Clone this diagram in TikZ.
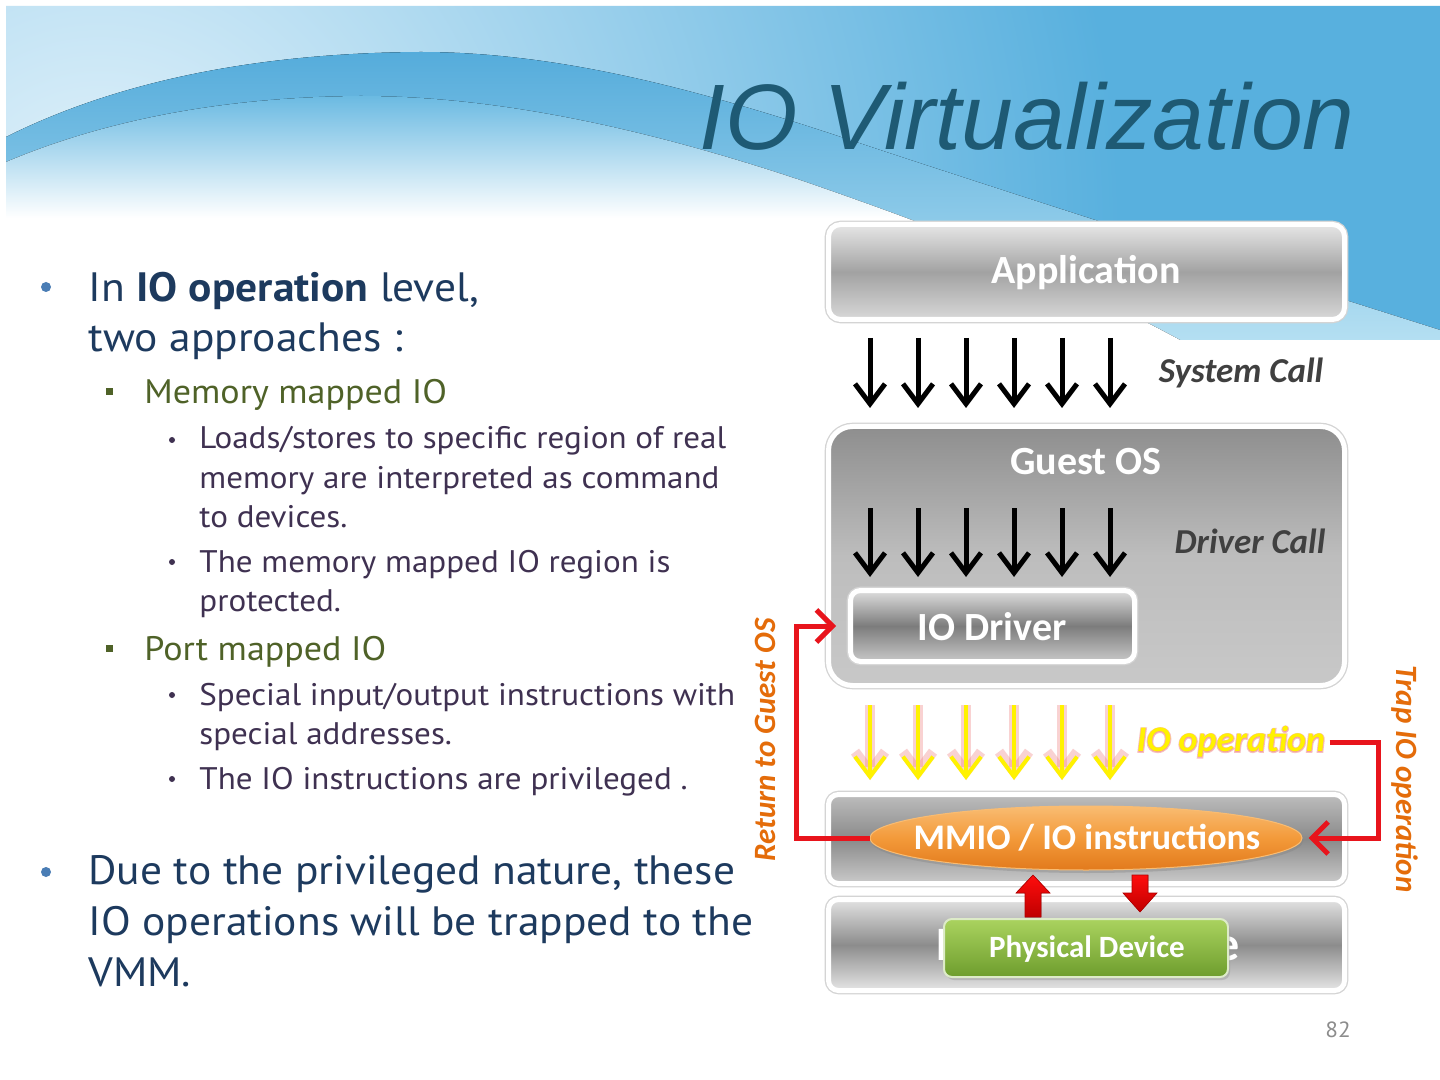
\documentclass[tikz,border=0pt]{standalone}
\usepackage{fontspec}
\usetikzlibrary{arrows.meta,shapes.geometric,shadows}
\setmainfont{PT Sans}
\newfontfamily\bodyfont[FakeStretch=1.06]{PT Sans}
\newfontfamily\calfont{Carlito}
\newfontfamily\calglow[FakeBold=6]{Carlito}
\newfontfamily\titlefont{Liberation Sans}
\definecolor{hdrBlue}{HTML}{58B0DE}
\definecolor{hdrLight}{HTML}{E4F3FB}
\definecolor{bandT}{HTML}{55ACDB}
\definecolor{bandB}{HTML}{B4DFF2}
\definecolor{waveT}{HTML}{6BBAE2}
\definecolor{titlecol}{HTML}{1E5A74}
\definecolor{navy}{HTML}{1D3A5E}
\definecolor{bullblue}{HTML}{4A7DB5}
\definecolor{olive}{HTML}{4F6228}
\definecolor{purp}{HTML}{3F3151}
\definecolor{lblgray}{HTML}{404040}
\definecolor{orangelbl}{HTML}{E46C0A}
\definecolor{redc}{HTML}{E8141C}
\definecolor{ioyellow}{HTML}{FFF200}
\definecolor{glowpink}{HTML}{F08080}
\definecolor{edgegray}{HTML}{D4D4D4}
\definecolor{appT}{HTML}{E6E6E6}\definecolor{appM}{HTML}{A2A2A2}\definecolor{appB}{HTML}{D8D8D8}
\definecolor{gosT}{HTML}{8E8E8E}\definecolor{gosM}{HTML}{BDBDBD}\definecolor{gosB}{HTML}{C8C8C8}
\definecolor{iodT}{HTML}{DEDEDE}\definecolor{iodM}{HTML}{7C7C7C}\definecolor{iodB}{HTML}{C8C8C8}
\definecolor{vmmT}{HTML}{BDBDBD}\definecolor{vmmM}{HTML}{8A8A8A}\definecolor{vmmB}{HTML}{CACACA}
\definecolor{hwT}{HTML}{E2E2E2}\definecolor{hwM}{HTML}{8C8C8C}\definecolor{hwB}{HTML}{E6E6E6}
\definecolor{orT}{HTML}{F9BC72}\definecolor{orM}{HTML}{F39A3A}\definecolor{orB}{HTML}{E27A1C}
\definecolor{grT}{HTML}{AAD35F}\definecolor{grB}{HTML}{6E9D2D}\definecolor{grD}{HTML}{DDEBC8}
\pgfdeclareradialshading{hdrglow}{\pgfpoint{0bp}{0bp}}{color(0bp)=(hdrLight); color(17bp)=(hdrBlue); color(50bp)=(hdrBlue)}
\tikzset{
  lvA/.style={anchor=base west, inner sep=0, text=navy, font=\bodyfont\fontsize{20.5}{24}\selectfont},
  lvB/.style={anchor=base west, inner sep=0, text=olive, font=\bodyfont\fontsize{17}{20}\selectfont},
  lvC/.style={anchor=base west, inner sep=0, text=purp, font=\bodyfont\fontsize{15.6}{19}\selectfont},
  dotA/.style={circle, fill=bullblue, inner sep=0, minimum size=5pt},
  sqB/.style={rectangle, fill=olive, inner sep=0, minimum size=3.5pt},
  dotC/.style={circle, fill=purp, inner sep=0, minimum size=3pt},
  layer/.style={rounded corners=6pt, draw=white, line width=2.5pt, inner sep=0,
    drop shadow={shadow xshift=1pt, shadow yshift=-1.5pt, opacity=0.3},
    preaction={draw=edgegray, line width=3.8pt}},
  lbl/.style={text=white, font=\calfont\bfseries\fontsize{20}{24}\selectfont, inner sep=0},
  sidelbl/.style={text=lblgray, font=\calfont\bfseries\itshape\fontsize{17.5}{21}\selectfont, inner sep=0},
  vlbl/.style={text=orangelbl, font=\calfont\bfseries\itshape\fontsize{15.5}{18}\selectfont, inner sep=0},
  blkarrow/.style={draw=black, line width=2.5pt, -{Straight Barb[length=10pt,width=15pt]}},
  yelglow/.style={draw=glowpink, opacity=0.35, line width=5pt, -{Straight Barb[length=10pt,width=15pt]}},
  yelarrow/.style={draw=ioyellow, line width=2pt, -{Straight Barb[length=10pt,width=15pt]}},
  redline/.style={draw=redc, line width=2.5pt, -{Straight Barb[length=8pt,width=16pt]}},
  redblock/.style={top color=red!95!white, bottom color=red!75!black, draw=red!70!black, line width=0.3pt}
}
\begin{document}
\begin{tikzpicture}[x=0.5pt,y=-0.5pt]
\useasboundingbox (0,0) rectangle (1440,1080);
\fill[white] (0,0) rectangle (1440,1080);
% header
\fill[hdrBlue] (6,6) rectangle (1440,340);
\begin{scope}
\clip (6,6) -- (6,137) .. controls (120,80) and (260,53) .. (420,52) .. controls (560,52) and (700,90) .. (850,140) .. controls (1000,190) and (1250,270) .. (1440,330) -- (1440,6) -- cycle;
\shade[shading=hdrglow] (100,230) circle (1500);
\end{scope}
\fill[top color=bandT, bottom color=bandB] (6,137) .. controls (120,80) and (260,53) .. (420,52) .. controls (560,52) and (700,90) .. (850,140) .. controls (1000,190) and (1250,270) .. (1440,330) -- (1440,340) -- (6,340) -- cycle;
\fill[top color=waveT, bottom color=white, middle color=white] (6,162) .. controls (110,118) and (230,97) .. (360,96) .. controls (500,96) and (650,130) .. (800,180) .. controls (930,225) and (1050,270) .. (1180,340) -- (6,340) -- cycle;
\node[anchor=base east, inner sep=0, text=titlecol, font=\titlefont\itshape\fontsize{46.5}{50}\selectfont] (title) at (1355,150) {IO Virtualization};

% left text
\node[dotA] (b1) at (46,287) {};
\node[lvA] (l1a) at (88,302) {In \textbf{IO operation} level,};
\node[lvA] (l1b) at (88,352) {two approaches :};
\node[sqB] (b2) at (109,392) {};
\node[lvB] (l2a) at (144,404) {Memory mapped IO};
\node[dotC] (b3) at (172,440) {};
\node[lvC] (l3a) at (199,449) {Loads/stores to specific region of real};
\node[lvC] (l3b) at (199,488) {memory are interpreted as command};
\node[lvC] (l3c) at (199,527) {to devices.};
\node[dotC] (b4) at (172,562) {};
\node[lvC] (l3d) at (199,572) {The memory mapped IO region is};
\node[lvC] (l3e) at (199,611) {protected.};
\node[sqB] (b5) at (109,648) {};
\node[lvB] (l2b) at (144,660) {Port mapped IO};
\node[dotC] (b6) at (172,695) {};
\node[lvC] (l3f) at (199,705) {Special input/output instructions with};
\node[lvC] (l3g) at (199,744) {special addresses.};
\node[dotC] (b7) at (172,779) {};
\node[lvC] (l3h) at (199,789) {The IO instructions are privileged .};
\node[dotA] (b8) at (46,872) {};
\node[lvA] (l1c) at (88,884) {Due to the privileged nature, these};
\node[lvA] (l1d) at (88,935) {IO operations will be trapped to the};
\node[lvA] (l1e) at (88,986) {VMM.};

% diagram boxes
\node[layer, minimum width=258pt, minimum height=47.5pt, top color=appT, bottom color=appB, middle color=appM] (app) at (1086.5,272) {};
\node[lbl] (applbl) at (1086,273) {Application};

\foreach \i/\x in {1/870,2/918,3/966,4/1014,5/1062,6/1110}{
  \coordinate (sa\i) at (\x,338);
  \coordinate (ea\i) at (\x,408);
  \draw[blkarrow] (sa\i) -- (ea\i);
}
\node[sidelbl] (syscall) at (1241,373) {System Call};

\node[layer, rounded corners=12pt, minimum width=258pt, minimum height=129.5pt, top color=gosT, bottom color=gosB, middle color=gosM] (guest) at (1086.5,556) {};
\node[lbl] (guestlbl) at (1086,462) {Guest OS};
\foreach \i/\x in {1/870,2/918,3/966,4/1014,5/1062,6/1110}{
  \coordinate (sb\i) at (\x,508);
  \coordinate (eb\i) at (\x,577);
  \draw[blkarrow] (sb\i) -- (eb\i);
}
\node[sidelbl] (drvcall) at (1250,541) {Driver Call};

\node[layer, rounded corners=5pt, minimum width=142pt, minimum height=35.5pt, top color=iodT, bottom color=iodB, middle color=iodM] (iod) at (992.5,626) {};
\node[lbl] (iodlbl) at (992,627) {IO Driver};

% IO operation arrows
\foreach \i/\x in {1/870,2/918,3/966,4/1014,5/1062,6/1110}{
  \coordinate (sc\i) at (\x,705);
  \coordinate (ec\i) at (\x,780);
  \draw[yelglow] (sc\i) -- (ec\i);
  \draw[yelarrow] (sc\i) -- (ec\i);
}
\node[text=glowpink, opacity=0.5, font=\calglow\bfseries\itshape\fontsize{18}{21}\selectfont, inner sep=2pt] (ioglow) at (1231,742) {IO operation};
\node[text=ioyellow, font=\calfont\bfseries\itshape\fontsize{18}{21}\selectfont, inner sep=2pt] (ioop) at (1231,742) {IO operation};

% VMM layer
\node[layer, rounded corners=5pt, minimum width=258pt, minimum height=44.5pt, top color=vmmT, bottom color=vmmB, middle color=vmmM] (vmm) at (1086.5,839) {};
% hardware layer
\node[layer, rounded corners=5pt, minimum width=258pt, minimum height=45.5pt, top color=hwT, bottom color=hwB, middle color=hwM] (hw) at (1086.5,945) {};
\node[lbl, font=\calfont\bfseries\fontsize{24}{28}\selectfont] (hwlbl) at (1088,947) {Physical Device};

\node[ellipse, minimum width=216pt, minimum height=32pt, inner sep=0, top color=orT, bottom color=orB, middle color=orM, draw=orT, line width=0.5pt,
  drop shadow={shadow xshift=0.5pt, shadow yshift=-1.5pt, opacity=0.35}] (mmio) at (1086,838) {};
\node[lbl, font=\calfont\bfseries\fontsize{18}{22}\selectfont] (mmiolbl) at (1087,838) {MMIO / IO instructions};

% red block arrows
\coordinate (upA) at (1033,875);
\coordinate (dnA) at (1140,912);
\fill[redblock] (upA) -- ++(17,18) -- ++(-9,0) -- ++(0,24) -- ++(-16,0) -- ++(0,-24) -- ++(-9,0) -- cycle;
\fill[redblock] (dnA) -- ++(17,-19) -- ++(-9,0) -- ++(0,-18) -- ++(-16,0) -- ++(0,18) -- ++(-9,0) -- cycle;

\node[rounded corners=4pt, minimum width=142pt, minimum height=29pt, inner sep=0, top color=grT, bottom color=grB, draw=grD, line width=1pt,
  drop shadow={shadow xshift=1pt, shadow yshift=-1.5pt, opacity=0.3}] (phys) at (1086,948) {};
\node[lbl, font=\calfont\bfseries\fontsize{15.5}{18}\selectfont] (physlbl) at (1087,949) {Physical Device};

% red connectors
\coordinate (rl) at (796,0);
\coordinate (rr) at (1378,0);
\draw[redline] (mmio.west) -- (mmio.west -| rl) |- ([xshift=-6pt]iod.west);
\draw[redline] (ioop.east) -- (ioop.east -| rr) |- ([xshift=3pt]mmio.east);

\node[vlbl, rotate=90] (retlbl) at (765,740) {Return to Guest OS};
\node[vlbl, rotate=-90] (traplbl) at (1405,779) {Trap IO operation};

\node[text=gray!90, font=\bodyfont\fontsize{11}{13}\selectfont, inner sep=0] (pnum) at (1338,1030) {82};
\end{tikzpicture}
\end{document}
